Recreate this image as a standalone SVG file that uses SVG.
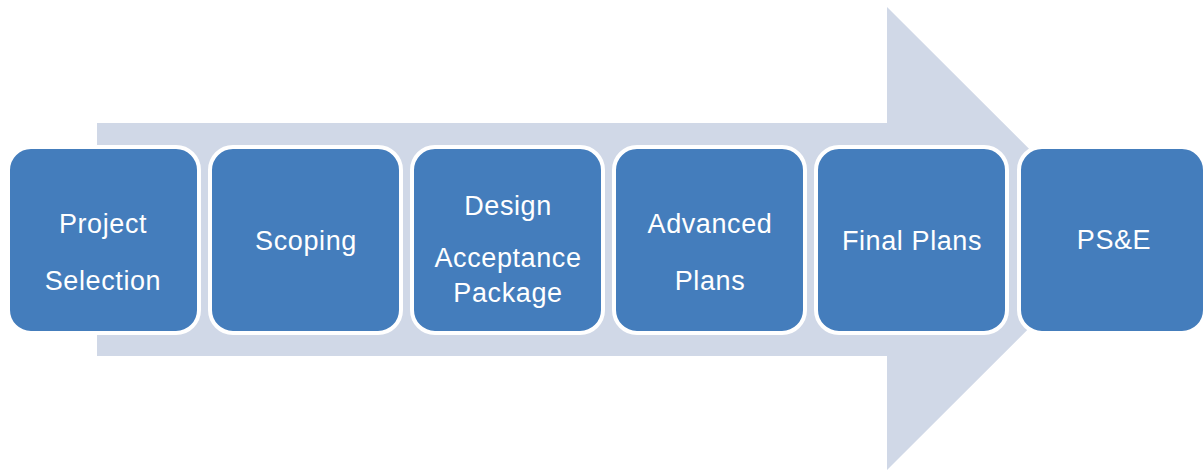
<svg xmlns="http://www.w3.org/2000/svg" width="1203" height="471" viewBox="0 0 1203 471">
<style>
.box{fill:#447DBC;stroke:#ffffff;stroke-width:4}
.t{fill:#ffffff;font-family:"Liberation Sans",Arial,sans-serif;font-size:27px;letter-spacing:0.6px;text-anchor:middle}
</style>
<rect width="1203" height="471" fill="#ffffff"/>
<g id="connectors">
<polygon points="97,123 887,123 887,7 1119,238.5 887,470 887,356 97,356" fill="#D0D8E7"/>
</g>
<g id="n1"><rect class="box" x="8" y="147" width="191" height="186" rx="23"/><text class="t" x="103" y="233">Project</text><text class="t" x="103" y="290">Selection</text></g>
<g id="n2"><rect class="box" x="210" y="147" width="191" height="186" rx="23"/><text class="t" x="306" y="250">Scoping</text></g>
<g id="n3"><rect class="box" x="412" y="147" width="191" height="186" rx="23"/><text class="t" x="508" y="215">Design</text><text class="t" x="508" y="267">Acceptance</text><text class="t" x="508" y="302">Package</text></g>
<g id="n4"><rect class="box" x="614" y="147" width="191" height="186" rx="23"/><text class="t" x="710" y="233">Advanced</text><text class="t" x="710" y="290">Plans</text></g>
<g id="n5"><rect class="box" x="816" y="147" width="191" height="186" rx="23"/><text class="t" x="912" y="250">Final Plans</text></g>
<g id="n6"><rect class="box" x="1019" y="147" width="186" height="186" rx="23"/><text class="t" x="1114" y="249">PS&amp;E</text></g>
</svg>
